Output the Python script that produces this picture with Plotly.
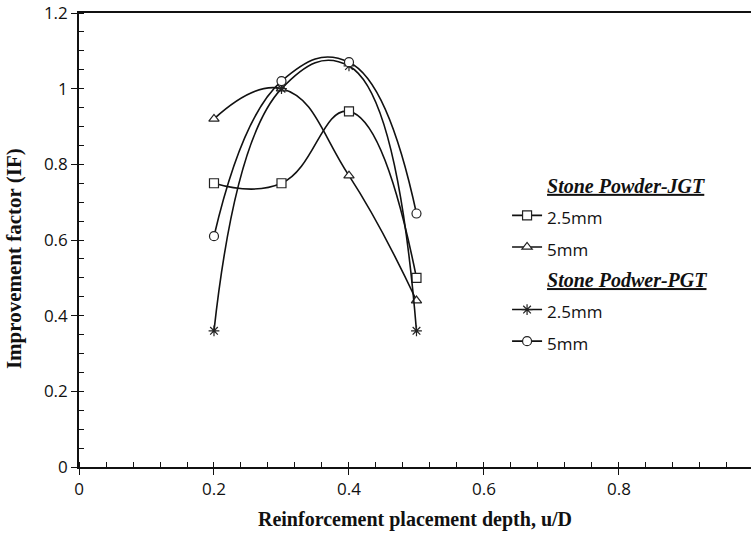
import plotly.graph_objects as go

x_vals = [0.2, 0.3, 0.4, 0.5]
jgt_25 = [0.75, 0.75, 0.94, 0.50]
jgt_5 = [0.92, 1.00, 0.77, 0.44]
pgt_25 = [0.36, 1.00, 1.06, 0.36]
pgt_5 = [0.61, 1.02, 1.07, 0.67]

series = [
    ("jgt", "2.5mm", jgt_25, "square", "Stone Powder-JGT"),
    ("jgt", "5mm", jgt_5, "triangle-up", None),
    ("pgt", "2.5mm", pgt_25, "asterisk-open", "Stone Podwer-PGT"),
    ("pgt", "5mm", pgt_5, "circle", None),
]

fig = go.Figure()
for grp, name, vals, sym, title in series:
    kw = {}
    if title:
        kw["legendgrouptitle"] = dict(
            text="&nbsp;" * 7 + "<u>" + title + "</u>",
            font=dict(family="Liberation Serif", size=20, color="#111",
                      style="italic", weight="bold"),
        )
    mcolor = "#222" if sym == "asterisk-open" else "white"
    fig.add_trace(go.Scatter(
        x=x_vals, y=vals, mode="lines+markers",
        name='<span style="font-size:17px">' + name + '</span>',
        legendgroup=grp,
        line=dict(color="#111", width=1.6, shape="spline", smoothing=1.3),
        marker=dict(symbol=sym, size=9, color=mcolor,
                    line=dict(color="#222", width=1.2)),
        **kw,
    ))

fig.update_layout(
    width=751, height=533,
    margin=dict(l=79, r=0, t=13, b=66),
    plot_bgcolor="white", paper_bgcolor="white",
    font=dict(family="Open Sans", size=17, color="#111"),
    showlegend=True,
    legend=dict(
        x=0.637, y=0.664, xanchor="left", yanchor="top",
        font=dict(family="Open Sans", size=22, color="#111"),
        tracegroupgap=2, bgcolor="rgba(0,0,0,0)",
    ),
    xaxis=dict(
        range=[0, 0.9956], dtick=0.2, tick0=0,
        showline=True, linecolor="#111", linewidth=1.6, mirror=True,
        ticks="outside", ticklen=6, tickcolor="#111", tickwidth=1.2,
        minor=dict(dtick=0.04, ticks="inside", ticklen=5, tickcolor="#111", tickwidth=1.2),
        showgrid=False, zeroline=False,
        tickfont=dict(family="Open Sans", size=17),
        title=dict(text="<b>Reinforcement placement depth, u/D</b>",
                   font=dict(family="Liberation Serif", size=20), standoff=13),
    ),
    yaxis=dict(
        range=[0, 1.2], dtick=0.2, tick0=0,
        showline=True, linecolor="#111", linewidth=1.6,
        ticks="outside", ticklen=6, tickcolor="#111", tickwidth=1.2,
        minor=dict(dtick=0.05, ticks="inside", ticklen=5, tickcolor="#111", tickwidth=1.2),
        showgrid=False, zeroline=False,
        tickfont=dict(family="Open Sans", size=17),
    ),
    annotations=[dict(
        text="<b>Improvement factor (IF)</b>",
        xref="paper", yref="paper", x=-0.0967, y=0.458,
        xanchor="center", yanchor="middle", textangle=-90, showarrow=False,
        font=dict(family="Liberation Serif", size=21, color="#111"),
    )],
)

fig.write_html("out.html")
